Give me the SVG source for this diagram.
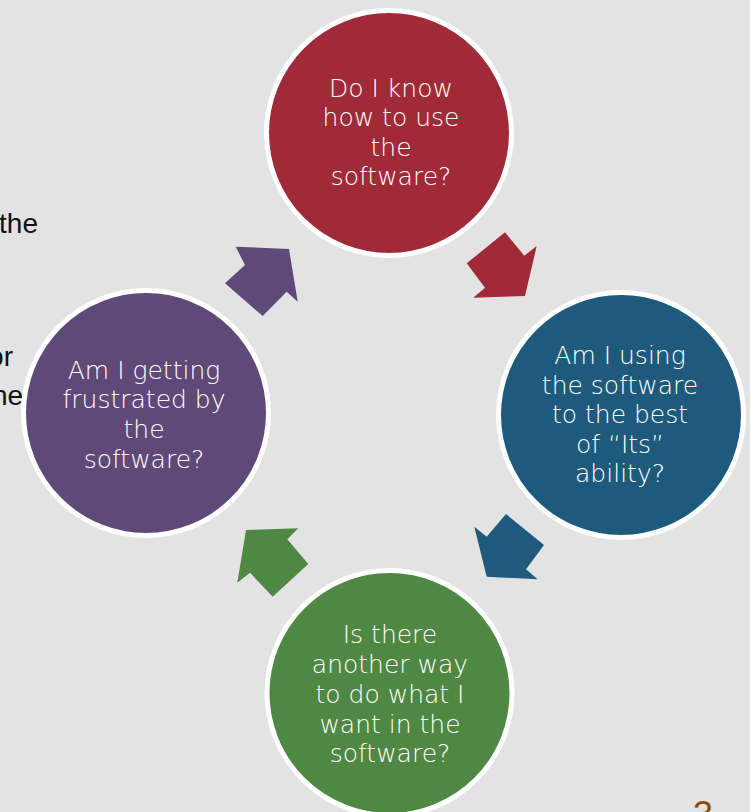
<svg xmlns="http://www.w3.org/2000/svg" width="750" height="812" viewBox="0 0 750 812">
<style>
.bg{fill:#e3e3e3}
.side{font-family:"Liberation Sans",Arial,sans-serif;font-size:28px;fill:#111}
.node circle{stroke:#ffffff;stroke-width:5}
.node text{font-family:"DejaVu Sans","Liberation Sans",sans-serif;font-weight:200;font-size:25px;fill:#ffffff;text-anchor:middle}
.red{fill:#a12a39}.blue{fill:#1e5a7b}.green{fill:#4f8843}.purple{fill:#5f4979}
</style>
<rect class="bg" x="0" y="0" width="750" height="812"/>
<g id="side-text">
<text class="side" x="38" y="233" text-anchor="end">the</text>
<text class="side" x="13" y="366" text-anchor="end">or</text>
<text class="side" x="-8" y="405">he</text>
</g>
<g id="connectors">
<polygon class="purple" points="235.7,246.7 289,249 297.7,301.7 286.7,291.7 262.7,316 225,283.3 245,265"/>
<polygon class="red" points="505,232.3 524.3,255.7 536.7,246 525,296 473.3,297.7 485,287.7 466.7,263.3"/>
<polygon class="blue" points="506,514 544,545 526,569.3 537.7,579.3 486.7,576.7 474.3,526.7 486.7,536.7"/>
<polygon class="green" points="246,530 298.3,528.3 287.3,539.3 308.3,564 272.7,596.7 250,572.7 237.3,582.7"/>
</g>
<g id="node-top" class="node">
<circle class="red" cx="389" cy="133" r="122.5"/>
<text x="391" y="97">Do I know</text>
<text x="391" y="126">how to use</text>
<text x="391" y="156">the</text>
<text x="391" y="185">software?</text>
</g>
<g id="node-right" class="node">
<circle class="blue" cx="621" cy="415" r="122.5"/>
<text x="620" y="364">Am I using</text>
<text x="620" y="394">the software</text>
<text x="620" y="423">to the best</text>
<text x="620" y="453">of “Its”</text>
<text x="620" y="482">ability?</text>
</g>
<g id="node-bottom" class="node">
<circle class="green" cx="389.5" cy="693" r="122.5"/>
<text x="390" y="643">Is there</text>
<text x="390" y="673">another way</text>
<text x="390" y="703">to do what I</text>
<text x="390" y="733">want in the</text>
<text x="390" y="762">software?</text>
</g>
<g id="node-left" class="node">
<circle class="purple" cx="146" cy="413" r="122.5"/>
<text x="144" y="379">Am I getting</text>
<text x="144" y="408">frustrated by</text>
<text x="144" y="438">the</text>
<text x="144" y="468">software?</text>
</g>
<text x="703" y="827" font-family="Liberation Sans,Arial,sans-serif" font-size="36" fill="#8a4b0a" text-anchor="middle">3</text>
</svg>
